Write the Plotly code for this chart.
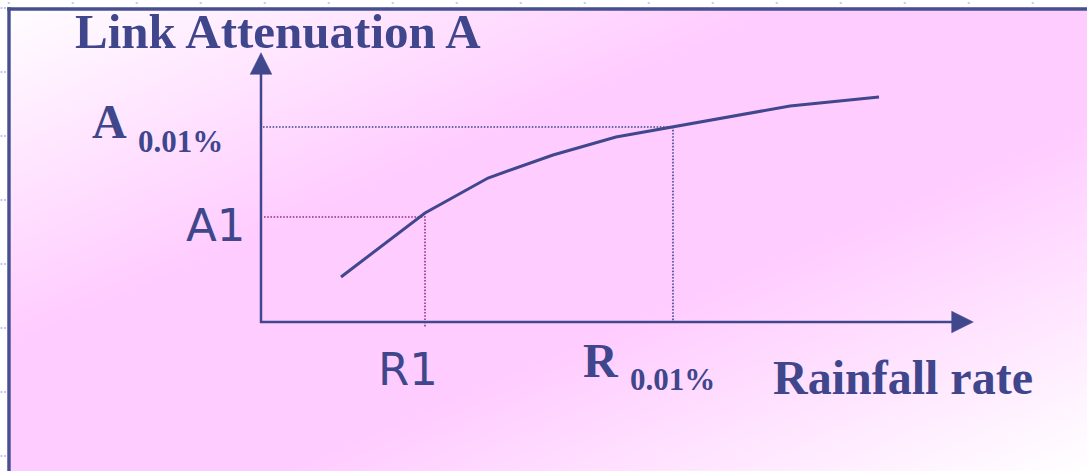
import plotly.graph_objects as go

W, H = 1087, 471
OX, OY = 261, 322  # pixel location of the diagram origin

# ---- data (diagram units measured from the axes origin) ----
rainfall = [80, 164, 227, 292, 355, 412, 529, 618]
attenuation = [45, 109, 144, 167, 185, 195, 216, 225]
R1, A1 = 164, 105
R001, A001 = 412, 195

TEXT = "#40468C"
LINE = "#41478C"
MAG = "#9B2D8C"
SERIF = "Liberation Serif, Times New Roman, serif"
SANS = "DejaVu Sans, Verdana, sans-serif"


def dx(px):
    return px - OX


def dy(py):
    return OY - py


fig = go.Figure()

# background diagonal gradient (white -> pink -> white)
fig.add_trace(go.Heatmap(
    x=[dx(0), dx(W)], y=[dy(H), dy(0)],
    z=[[0.5, 1.0], [0.0, 0.5]],
    zmin=0, zmax=1, zsmooth="best", showscale=False, hoverinfo="skip",
    colorscale=[[0, "#FFFFFF"], [0.37, "#FFCCFF"], [0.63, "#FFCCFF"], [1, "#FFFFFF"]],
))

# dotted guide lines
fig.add_trace(go.Scatter(x=[2, R001, R001], y=[A001, A001, 0], mode="lines",
                         line=dict(color=LINE, width=1.6, dash="1.6px,1.6px"),
                         hoverinfo="skip", showlegend=False))
fig.add_trace(go.Scatter(x=[3, R1, R1], y=[A1, A1, -6], mode="lines",
                         line=dict(color=MAG, width=1.6, dash="1.6px,1.6px"),
                         hoverinfo="skip", showlegend=False))

# attenuation curve
fig.add_trace(go.Scatter(x=rainfall, y=attenuation, mode="lines",
                         line=dict(color=LINE, width=3), hoverinfo="skip",
                         showlegend=False))

shapes = []
# white margins outside the slide frame
shapes.append(dict(type="rect", xref="x", yref="y", x0=dx(0), x1=dx(W), y0=dy(0), y1=dy(7.3),
                   fillcolor="white", line=dict(width=0), layer="above"))
shapes.append(dict(type="rect", xref="x", yref="y", x0=dx(0), x1=dx(7.3), y0=dy(0), y1=dy(H),
                   fillcolor="white", line=dict(width=0), layer="above"))
# small ruler dots
for k in range(17):
    xp = 8.7 + 64 * k
    shapes.append(dict(type="rect", xref="x", yref="y", x0=dx(xp - 1), x1=dx(xp + 1),
                       y0=dy(2), y1=dy(4), fillcolor="#BFC8F0", line=dict(width=0), layer="above"))
for k in range(8):
    yp = 8 + 64 * k
    for xp in (1.5, 5):
        shapes.append(dict(type="rect", xref="x", yref="y", x0=dx(xp - 1), x1=dx(xp + 1),
                           y0=dy(yp - 1), y1=dy(yp + 1), fillcolor="#BFC8F0",
                           line=dict(width=0), layer="above"))
# frame border
shapes.append(dict(type="line", xref="x", yref="y", x0=dx(7.3), x1=dx(W), y0=dy(9), y1=dy(9),
                   line=dict(color="#46508F", width=3.4), layer="above"))
shapes.append(dict(type="line", xref="x", yref="y", x0=dx(9), x1=dx(9), y0=dy(7.3), y1=dy(H),
                   line=dict(color="#46508F", width=3.4), layer="above"))
# axes with arrow heads
shapes.append(dict(type="line", xref="x", yref="y", x0=0, x1=0, y0=-1, y1=250,
                   line=dict(color=LINE, width=2.5), layer="above"))
shapes.append(dict(type="line", xref="x", yref="y", x0=-1, x1=692, y0=0, y1=0,
                   line=dict(color=LINE, width=2.5), layer="above"))
shapes.append(dict(type="path", xref="x", yref="y",
                   path="M -10.8,247.7 L 0,269.3 L 10.8,247.7 Z",
                   fillcolor=LINE, line=dict(color=LINE, width=0.5), layer="above"))
shapes.append(dict(type="path", xref="x", yref="y",
                   path="M 690.7,10.8 L 712.3,0 L 690.7,-10.8 Z",
                   fillcolor=LINE, line=dict(color=LINE, width=0.5), layer="above"))

labels = [
    # text, x(px), center-y(px), size, family, anchor
    ("<b>Link Attenuation A</b>", 74, 31.5, 49, SERIF, "left"),
    ("<b>A</b>", 91, 121.5, 48, SERIF, "left"),
    ("<b>0.01%</b>", 136.5, 141.2, 31, SERIF, "left"),
    ("A1", 215, 225.4, 45, SANS, "center"),
    ("R1", 407.5, 369.2, 45, SANS, "center"),
    ("<b>R</b>", 581.5, 360.8, 48, SERIF, "left"),
    ("<b>0.01%</b>", 628.5, 379.5, 31, SERIF, "left"),
    ("<b>Rainfall rate</b>", 772, 377.1, 48, SERIF, "left"),
]
annotations = []
for txt, xp, yp, size, fam, anc in labels:
    annotations.append(dict(text=txt, x=dx(xp), y=dy(yp), xref="x", yref="y",
                            xanchor=anc, yanchor="middle", showarrow=False, borderpad=0,
                            font=dict(size=size, family=fam, color=TEXT)))

fig.update_layout(
    width=W, height=H,
    margin=dict(l=0, r=0, t=0, b=0),
    paper_bgcolor="white", plot_bgcolor="white",
    shapes=shapes, annotations=annotations, showlegend=False,
    xaxis=dict(range=[dx(0), dx(W)], visible=False, fixedrange=True),
    yaxis=dict(range=[dy(H), dy(0)], visible=False, fixedrange=True),
)

fig.write_html(
    "out.html",
    config={"displayModeBar": False},
    post_script="document.body.style.margin='0';document.body.style.padding='0';"
                "document.body.style.overflow='hidden';",
)
